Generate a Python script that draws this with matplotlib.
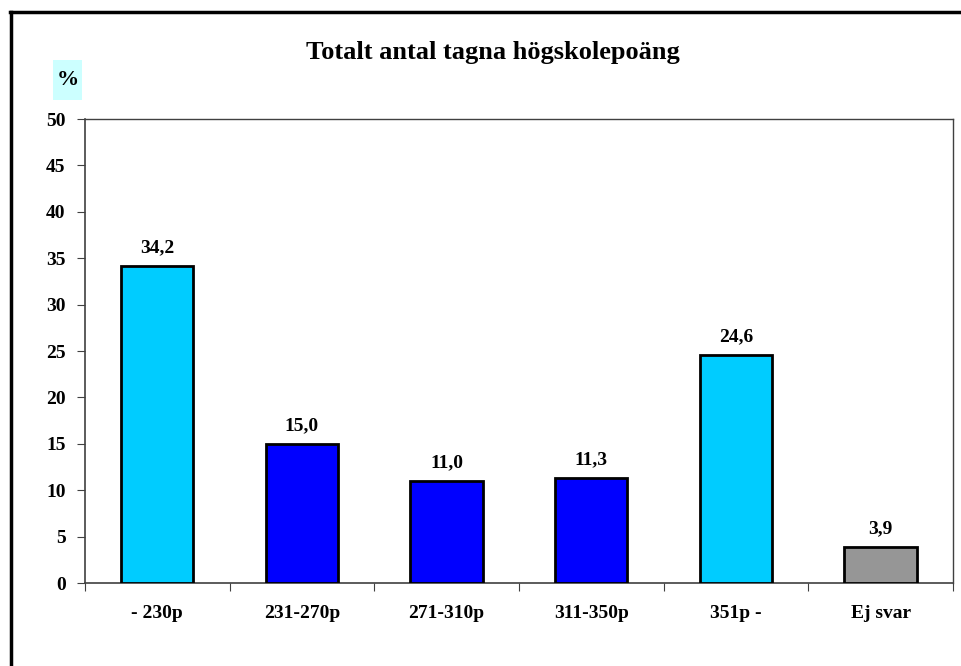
import matplotlib.pyplot as plt
from matplotlib.patches import Rectangle
from matplotlib.lines import Line2D

categories = ["- 230p", "231-270p", "271-310p", "311-350p", "351p -", "Ej svar"]
values = [34.2, 15.0, 11.0, 11.3, 24.6, 3.9]
colors = ["#00CCFF", "#0000FF", "#0000FF", "#0000FF", "#00CCFF", "#969696"]
yticks = list(range(0, 55, 5))

plt.rcParams["font.family"] = ["Liberation Serif", "DejaVu Serif"]
plt.rcParams["font.weight"] = "bold"

W, H = 962, 666
fig = plt.figure(figsize=(W / 100, H / 100), dpi=100)
ax = fig.add_axes([85 / W, 1 - 583 / H, (953 - 85) / W, (583 - 119) / H])

x = list(range(len(categories)))
ax.bar(x, values, width=0.5, color=colors, edgecolor="black", linewidth=2, zorder=3)
for xi, v in zip(x, values):
    ax.annotate(f"{v:.1f}".replace(".", ","), (xi, v), xytext=(0, 7), textcoords="offset points",
                ha="center", va="bottom", fontsize=14, fontweight="bold")

ax.set_xlim(-0.5, len(categories) - 0.5)
ax.set_ylim(0, 50)
ax.set_yticks(yticks)
ax.set_yticklabels([str(t) for t in yticks], fontsize=14, fontweight="bold")
ax.set_xticks([i + 0.5 for i in x[:-1]] + [-0.5, len(categories) - 0.5])
ax.set_xticklabels([])
ax.set_xticks(x, minor=True)
ax.set_xticklabels(categories, minor=True, fontsize=14, fontweight="bold")
ax.tick_params(axis="x", which="minor", length=0, pad=16)
ax.tick_params(axis="x", which="major", length=6, direction="out", color="#404040")
ax.tick_params(axis="y", length=6, direction="out", pad=8, color="#404040")
for side in ["left", "bottom"]:
    ax.spines[side].set_color("#404040")
    ax.spines[side].set_linewidth(1.2)
for side in ["top", "right"]:
    ax.spines[side].set_color("#404040")
    ax.spines[side].set_linewidth(1.0)

fig.text(493 / W, 1 - 53 / H, "Totalt antal tagna högskolepoäng", ha="center", va="center",
         fontsize=19, fontweight="bold")

fig.patches.append(Rectangle((53 / W, 1 - 100 / H), 29 / W, 40 / H, transform=fig.transFigure,
                             facecolor="#CCFFFF", edgecolor="none"))
fig.text(67.5 / W, 1 - 80 / H, "%", ha="center", va="center", fontsize=16, fontweight="bold")

# outer frame, only left and top edges inside the picture
fig.add_artist(Line2D([11 / W, 11 / W], [0, 1 - 12 / H], transform=fig.transFigure, color="black", linewidth=2.5))
fig.add_artist(Line2D([10 / W, 1], [1 - 12 / H, 1 - 12 / H], transform=fig.transFigure, color="black", linewidth=2.5))

fig.savefig("out.png", dpi=100)
